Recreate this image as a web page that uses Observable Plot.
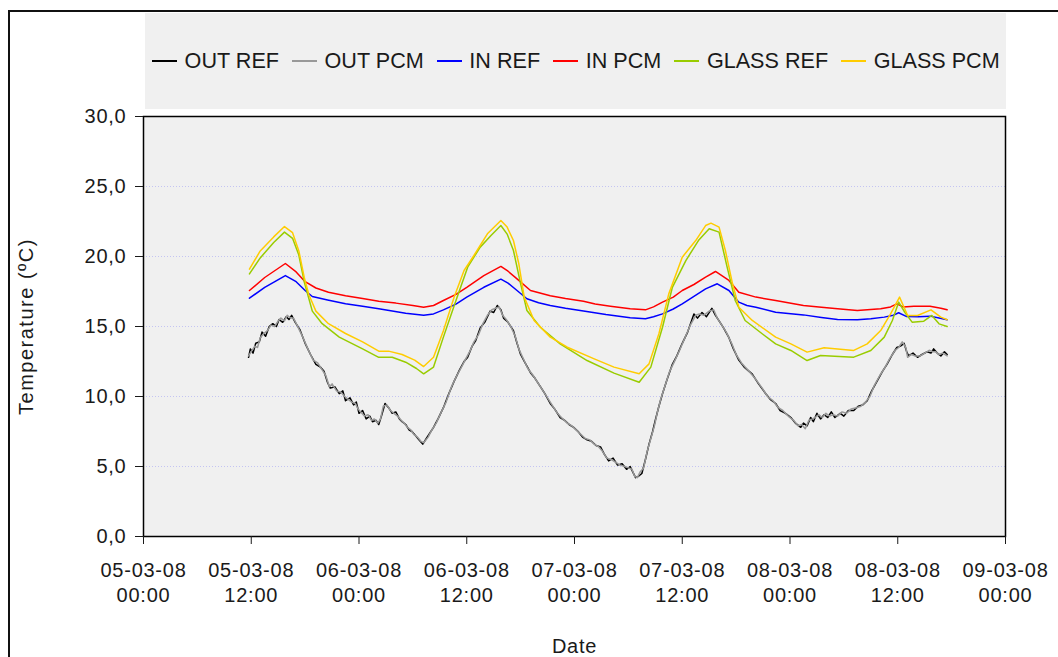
<!DOCTYPE html>
<html>
<head>
<meta charset="utf-8">
<script src="https://cdn.jsdelivr.net/npm/d3@7"></script>
<script src="https://cdn.jsdelivr.net/npm/@observablehq/plot@0.6"></script>
<style>
  html, body { margin: 0; padding: 0; background: #fff; overflow: hidden; }
  #wrap { position: relative; width: 1058px; height: 657px; font-family: "Liberation Sans", Arial, sans-serif; color: #1a1a1a; }
  #border { position: absolute; left: 8px; top: 10px; width: 1200px; height: 800px; border-left: 2px solid #111; border-top: 2px solid #111; box-sizing: border-box; }
  #legend { position: absolute; left: 145px; top: 13px; width: 861px; height: 96px; background: #f0f0f0; display: flex; align-items: center; padding-left: 7px; box-sizing: border-box; }
  .item { display: flex; align-items: center; margin-right: 13px; font-size: 21.6px; white-space: nowrap; }
  .sw { width: 25px; height: 1.5px; margin-right: 7.6px; }
  #chart { position: absolute; left: 0; top: 0; }
  #chart svg text { letter-spacing: 0.75px; }
  #chart svg .ylab text { letter-spacing: 1.5px; }
</style>
</head>
<body>
<div id="wrap">
  <div id="border"></div>
  <div id="chart"></div>
  <div id="legend"></div>
</div>
<script>
// ---- Data (hours after 05-03-08 00:00, temperature °C) ----
const seriesNames = ["OUT REF", "OUT PCM", "IN REF", "IN PCM", "GLASS REF", "GLASS PCM"];
const seriesColors = ["#000000", "#999999", "#0000ff", "#ff0000", "#99cc00", "#ffcc00"];
const yTicks = [0, 5, 10, 15, 20, 25, 30];

const outRef = [[11.7,12.8],[11.9,13.4],[12.2,13.1],[12.5,13.8],[12.9,13.9],[13.2,14.6],[13.6,14.3],[14.0,15.0],[14.4,15.2],[14.8,15.0],[15.1,15.5],[15.5,15.3],[15.9,15.7],[16.2,15.5],[16.5,15.8],[16.9,15.3],[17.4,14.8],[18.0,13.8],[18.6,13.0],[19.2,12.3],[19.7,12.1],[20.1,11.8],[20.5,11.0],[20.8,10.6],[21.3,10.7],[21.8,10.2],[22.2,10.4],[22.5,9.7],[23.0,9.9],[23.4,9.4],[23.7,9.6],[24.0,8.8],[24.4,9.0],[24.8,8.4],[25.2,8.6],[25.5,8.2],[25.9,8.3],[26.2,8.0],[26.5,8.6],[26.9,9.5],[27.3,9.2],[27.7,8.8],[28.1,8.9],[28.5,8.4],[28.8,8.2],[29.2,8.0],[29.6,7.6],[29.9,7.5],[30.3,7.2],[30.7,6.9],[31.1,6.6],[31.5,7.0],[31.9,7.4],[32.3,7.8],[32.8,8.4],[33.4,9.2],[34.0,10.2],[34.6,11.1],[35.2,11.9],[35.7,12.5],[36.1,12.8],[36.6,13.6],[37.0,14.0],[37.5,14.9],[38.0,15.3],[38.6,16.1],[39.0,16.0],[39.4,16.5],[39.8,16.2],[40.1,15.6],[40.6,15.3],[41.2,14.7],[41.6,13.8],[42.0,13.0],[42.5,12.4],[43.1,11.7],[43.6,11.3],[44.2,10.7],[44.7,10.2],[45.3,9.5],[45.8,9.1],[46.4,8.5],[46.9,8.3],[47.4,8.0],[47.9,7.8],[48.4,7.5],[48.9,7.1],[49.4,6.9],[49.9,6.8],[50.4,6.5],[50.9,6.4],[51.3,5.9],[51.8,5.4],[52.3,5.6],[52.8,5.1],[53.3,5.2],[53.8,4.8],[54.2,5.0],[54.5,4.6],[54.8,4.2],[55.1,4.3],[55.5,4.5],[55.9,5.5],[56.3,6.6],[56.7,7.5],[57.0,8.3],[57.4,9.3],[57.8,10.2],[58.3,11.2],[58.9,12.3],[59.4,12.9],[60.0,13.8],[60.6,14.6],[61.3,15.9],[61.7,15.6],[62.2,16.0],[62.7,15.7],[63.3,16.3],[63.7,15.8],[64.1,15.4],[64.6,14.9],[65.2,14.2],[65.7,13.4],[66.3,12.6],[66.9,12.1],[67.8,11.6],[68.5,10.9],[69.3,10.2],[69.8,9.8],[70.4,9.5],[70.9,9.0],[71.5,8.8],[72.1,8.5],[72.6,8.1],[73.2,7.8],[73.5,8.1],[73.9,7.9],[74.3,8.5],[74.6,8.2],[75.0,8.8],[75.4,8.4],[75.8,8.7],[76.2,8.5],[76.6,8.9],[77.0,8.5],[77.6,8.8],[78.0,8.6],[78.5,9.0],[79.1,9.0],[79.6,9.3],[80.1,9.4],[80.6,9.7],[81.1,10.4],[81.7,11.1],[82.3,11.8],[82.8,12.3],[83.4,13.0],[83.9,13.5],[84.3,13.6],[84.7,13.8],[85.0,13.2],[85.2,12.9],[85.7,13.1],[86.2,12.8],[86.7,13.0],[87.3,13.2],[87.7,13.1],[88.0,13.4],[88.4,13.1],[88.8,12.9],[89.2,13.2],[89.5,13.0]];

const outPcm = [[11.7,12.9],[12.0,13.2],[12.4,13.6],[12.7,13.5],[13.0,14.2],[13.4,14.5],[13.8,14.7],[14.2,15.1],[14.6,15.0],[15.0,15.4],[15.3,15.6],[15.7,15.4],[16.0,15.8],[16.4,15.6],[16.7,15.6],[17.1,15.1],[17.7,14.3],[18.3,13.4],[18.9,12.6],[19.4,12.4],[19.9,11.9],[20.3,11.5],[20.7,10.7],[21.0,10.9],[21.5,10.4],[22.0,10.3],[22.4,10.0],[22.8,9.8],[23.2,9.6],[23.6,9.5],[23.9,9.1],[24.2,8.9],[24.6,8.6],[25.0,8.7],[25.4,8.3],[25.7,8.4],[26.1,8.1],[26.4,8.4],[26.7,9.3],[27.1,9.4],[27.5,9.0],[27.9,8.8],[28.3,8.6],[28.7,8.3],[29.0,8.1],[29.4,7.8],[29.8,7.6],[30.1,7.3],[30.5,7.1],[30.9,6.8],[31.2,6.7],[31.7,7.1],[32.1,7.6],[32.6,8.1],[33.1,8.8],[33.7,9.6],[34.3,10.7],[34.9,11.5],[35.5,12.2],[35.9,12.7],[36.4,13.3],[36.8,13.9],[37.3,14.4],[37.8,15.2],[38.3,15.8],[38.8,16.2],[39.2,16.3],[39.6,16.4],[40.0,15.8],[40.4,15.5],[40.9,15.0],[41.4,14.3],[41.8,13.4],[42.3,12.7],[42.8,12.0],[43.4,11.5],[43.9,11.0],[44.5,10.4],[45.0,9.9],[45.6,9.3],[46.1,8.8],[46.7,8.4],[47.2,8.1],[47.7,7.9],[48.2,7.6],[48.7,7.3],[49.2,7.0],[49.7,6.9],[50.2,6.6],[50.7,6.4],[51.1,6.1],[51.6,5.6],[52.1,5.5],[52.6,5.3],[53.1,5.1],[53.6,5.0],[54.0,4.9],[54.4,4.8],[54.7,4.3],[55.0,4.2],[55.3,4.6],[55.7,4.9],[56.1,6.1],[56.5,7.0],[56.9,7.9],[57.2,8.8],[57.6,9.8],[58.0,10.6],[58.6,11.8],[59.2,12.6],[59.7,13.3],[60.3,14.2],[60.9,15.1],[61.5,15.8],[61.9,15.9],[62.4,15.8],[63.0,16.1],[63.5,16.2],[63.9,15.6],[64.3,15.2],[64.9,14.6],[65.5,13.8],[66.0,13.0],[66.6,12.4],[67.3,11.9],[68.1,11.3],[68.9,10.6],[69.5,10.0],[70.1,9.7],[70.7,9.2],[71.2,9.0],[71.8,8.6],[72.4,8.3],[72.9,7.9],[73.3,8.0],[73.7,7.7],[74.1,8.3],[74.5,8.4],[74.8,8.5],[75.2,8.7],[75.6,8.5],[76.0,8.8],[76.4,8.6],[76.8,8.7],[77.3,8.6],[77.8,8.9],[78.3,8.8],[78.8,9.1],[79.4,9.2],[79.9,9.3],[80.4,9.6],[80.9,10.0],[81.4,10.8],[82.0,11.5],[82.6,12.1],[83.1,12.7],[83.7,13.3],[84.1,13.5],[84.5,13.9],[84.9,13.5],[85.1,12.8],[85.5,13.0],[85.9,12.9],[86.5,12.9],[87.0,13.1],[87.5,13.3],[87.9,13.2],[88.2,13.2],[88.6,13.0],[89.0,13.1],[89.5,12.9]];

const inRef = [[11.8,17.02],[13.5,17.8],[15.8,18.64],[17.0,18.2],[18.0,17.57],[18.8,17.14],[20.5,16.9],[22.5,16.62],[24.4,16.45],[26.2,16.26],[29.2,15.95],[31.2,15.81],[32.3,15.9],[33.4,16.19],[34.8,16.6],[36.0,17.1],[37.9,17.8],[39.8,18.38],[40.6,18.1],[41.6,17.57],[42.7,16.98],[44.0,16.7],[45.3,16.5],[47.0,16.3],[49.0,16.1],[51.5,15.85],[54.2,15.62],[55.9,15.55],[56.8,15.7],[57.8,15.9],[59.0,16.25],[60.0,16.62],[61.3,17.15],[62.6,17.69],[63.9,18.05],[65.2,17.57],[66.3,16.74],[67.2,16.5],[68.2,16.38],[70.4,16.02],[73.5,15.83],[75.5,15.65],[77.3,15.5],[79.5,15.48],[81.0,15.55],[82.5,15.67],[83.5,15.8],[84.1,15.98],[85.0,15.71],[86.3,15.7],[87.6,15.74],[88.6,15.6],[89.5,15.48]];

const inPcm = [[11.8,17.57],[13.5,18.5],[15.8,19.5],[17.0,18.9],[18.0,18.2],[19.2,17.75],[20.6,17.45],[22.5,17.2],[24.4,17.0],[26.2,16.8],[28.1,16.67],[30.0,16.5],[31.2,16.38],[32.3,16.5],[33.4,16.86],[34.8,17.3],[36.0,17.8],[37.9,18.64],[39.8,19.29],[40.6,18.95],[41.6,18.4],[43.1,17.57],[45.3,17.2],[47.0,17.0],[49.0,16.8],[50.3,16.6],[52.0,16.45],[54.2,16.26],[55.9,16.19],[56.8,16.4],[57.8,16.74],[59.0,17.1],[60.0,17.57],[61.3,18.0],[62.6,18.52],[63.7,18.93],[65.2,18.29],[66.3,17.45],[68.2,17.1],[70.4,16.86],[73.5,16.5],[75.5,16.38],[77.3,16.26],[79.5,16.14],[82.1,16.26],[83.2,16.4],[83.9,16.62],[84.6,16.4],[85.8,16.45],[87.6,16.45],[88.8,16.3],[89.5,16.19]];

const glassRef = [[11.8,18.76],[13.0,19.9],[14.5,21.0],[15.7,21.74],[16.6,21.3],[17.3,20.1],[17.9,18.2],[18.8,16.1],[19.9,15.2],[21.8,14.24],[24.4,13.4],[26.2,12.8],[27.7,12.8],[29.2,12.45],[30.4,12.0],[31.2,11.62],[32.3,12.1],[33.4,14.24],[34.8,16.86],[36.1,19.24],[37.5,20.67],[38.7,21.5],[39.8,22.21],[40.5,21.6],[41.2,20.43],[42.0,18.05],[42.7,16.14],[44.2,14.95],[46.4,13.76],[49.4,12.57],[52.4,11.67],[55.2,11.02],[56.5,12.1],[57.8,14.95],[58.9,17.8],[60.4,19.71],[61.8,21.14],[63.0,21.98],[64.1,21.74],[65.0,19.24],[65.9,16.86],[67.0,15.43],[68.9,14.48],[70.4,13.76],[72.1,13.29],[73.9,12.57],[75.4,12.93],[77.5,12.85],[79.1,12.81],[81.0,13.29],[82.5,14.24],[83.4,15.43],[84.1,16.74],[84.8,16.0],[85.6,15.31],[86.9,15.38],[87.8,15.79],[88.6,15.19],[89.5,15.0]];

const glassPcm = [[11.8,19.1],[13.0,20.4],[14.5,21.4],[15.7,22.14],[16.6,21.7],[17.3,20.4],[17.9,18.5],[18.4,17.3],[19.2,16.1],[20.6,15.2],[22.5,14.5],[24.4,13.9],[26.2,13.24],[27.3,13.24],[28.8,13.0],[30.2,12.6],[31.2,12.14],[32.3,12.8],[33.4,14.7],[34.6,17.1],[35.7,19.0],[36.8,20.07],[38.3,21.62],[39.8,22.57],[40.5,22.1],[41.2,21.14],[41.8,19.48],[42.4,17.1],[43.5,15.43],[45.3,14.24],[47.2,13.52],[50.2,12.69],[52.4,12.1],[55.2,11.62],[56.3,12.33],[57.4,14.48],[58.5,17.33],[60.0,19.95],[61.5,21.14],[62.6,22.21],[63.2,22.38],[64.1,22.1],[64.8,20.43],[65.6,18.05],[66.3,16.38],[67.8,15.43],[70.4,14.24],[72.1,13.76],[73.9,13.17],[75.8,13.48],[79.1,13.29],[80.6,13.76],[82.1,14.71],[83.2,15.9],[84.2,17.1],[85.1,15.79],[86.2,15.79],[87.7,16.19],[88.8,15.67],[89.5,15.48]];

const seriesPoints = [outRef, outPcm, inRef, inPcm, glassRef, glassPcm];

// ---- Build ----
const t0 = Date.UTC(2008, 2, 5, 0, 0);
const t1 = Date.UTC(2008, 2, 9, 0, 0);
const xTicks = d3.utcHour.every(12).range(new Date(t0), new Date(t1 + 1));
const fmtDate = d3.utcFormat("%d-%m-%y");
const fmtTime = d3.utcFormat("%H:%M");
const fmtY = d => d.toFixed(1).replace(".", ",");

const rows = [];
seriesPoints.forEach((pts, i) => {
  pts.forEach(([h, T]) => rows.push({series: seriesNames[i], date: new Date(t0 + h * 3600000), T}));
});

const lineMarks = seriesNames.map((name, i) =>
  Plot.line(rows.filter(r => r.series === name), {x: "date", y: "T", stroke: seriesColors[i], strokeWidth: 1.5})
);

const chart = Plot.plot({
  width: 1058,
  height: 657,
  marginLeft: 143,
  marginRight: 53,
  marginTop: 116,
  marginBottom: 121,
  style: {fontFamily: '"Liberation Sans", Arial, sans-serif', color: "#1a1a1a", background: "transparent", overflow: "visible"},
  x: {type: "utc", domain: [new Date(t0), new Date(t1)]},
  y: {domain: [0, 30]},
  marks: [
    Plot.frame({fill: "#f0f0f0", stroke: null}),
    Plot.ruleY([5, 10, 15, 20, 25], {stroke: "#c4c4f2", strokeWidth: 1, strokeDasharray: "1,2"}),
    ...lineMarks,
    Plot.frame({stroke: "#000", strokeWidth: 1.5}),
    Plot.axisY({ticks: yTicks, tickSize: 8, tickPadding: 9, fontSize: 20, tickFormat: fmtY, label: null}),
    Plot.axisX({ticks: xTicks, tickSize: 8, tickPadding: 18, fontSize: 20, tickFormat: fmtDate, label: null}),
    Plot.axisX({ticks: xTicks, tickSize: 0, tickPadding: 51.5, fontSize: 20, tickFormat: fmtTime, label: null}),
    Plot.text(["Temperature (ºC)"], {frameAnchor: "left", textAnchor: "middle", lineAnchor: "middle", dx: -117, rotate: -90, fontSize: 20, fill: "#1a1a1a", text: d => d, className: "ylab"}),
    Plot.text(["Date"], {frameAnchor: "bottom", textAnchor: "middle", dy: 116, lineAnchor: "bottom", fontSize: 20, fill: "#1a1a1a", text: d => d})
  ]
});
document.getElementById("chart").appendChild(chart);

// ---- Legend ----
const legend = document.getElementById("legend");
seriesNames.forEach((name, i) => {
  const item = document.createElement("div");
  item.className = "item";
  const sw = document.createElement("span");
  sw.className = "sw";
  sw.style.background = seriesColors[i];
  const label = document.createElement("span");
  label.textContent = name;
  item.appendChild(sw);
  item.appendChild(label);
  legend.appendChild(item);
});
</script>
</body>
</html>
